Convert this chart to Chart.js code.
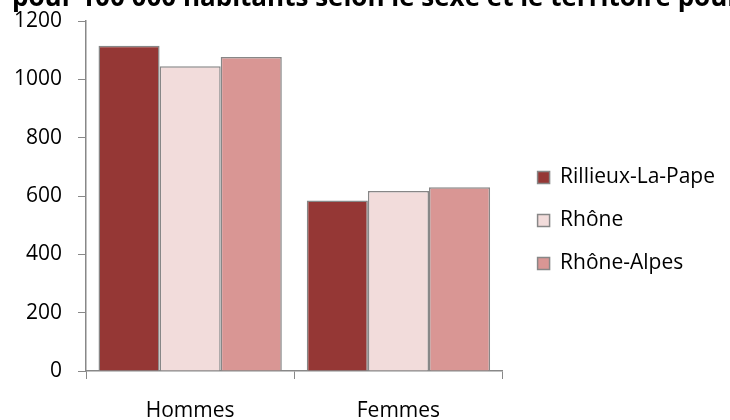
<!DOCTYPE html>
<html>
<head>
<meta charset="utf-8">
<script src="https://cdn.jsdelivr.net/npm/chart.js@4"></script>
<style>
  html, body { margin: 0; padding: 0; background: #fff; }
  #wrap { width: 730px; height: 420px; position: relative; }
</style>
</head>
<body>
<div id="wrap"><canvas id="c" width="730" height="420"></canvas></div>
<script>
const categories = ["Hommes", "Femmes"];
const seriesNames = ["Rillieux-La-Pape", "Rhône", "Rhône-Alpes"];
const rillieux = [1115, 585];
const rhone = [1045, 617];
const rhoneAlpes = [1077, 630];
const yTicks = [0, 200, 400, 600, 800, 1000, 1200];
const titleText = "pour 100 000 habitants selon le sexe et le territoire pour";

const colors = ["#953735", "#F2DCDB", "#D99694"];
const FONT = '"Open Sans", "DejaVu Sans", sans-serif';

const titlePlugin = {
  id: 'clippedTitle',
  afterDraw(chart) {
    const ctx = chart.ctx;
    ctx.save();
    ctx.font = 'bold 26px ' + FONT;
    ctx.fillStyle = '#000';
    ctx.textBaseline = 'alphabetic';
    ctx.textAlign = 'left';
    ctx.fillText(titleText, 12, 6);
    ctx.restore();
  }
};

new Chart(document.getElementById('c'), {
  type: 'bar',
  data: {
    labels: categories,
    datasets: [
      { label: seriesNames[0], data: rillieux, backgroundColor: colors[0] },
      { label: seriesNames[1], data: rhone, backgroundColor: colors[1] },
      { label: seriesNames[2], data: rhoneAlpes, backgroundColor: colors[2] }
    ].map(d => Object.assign(d, {
      borderColor: '#878787',
      borderWidth: 1.5,
      categoryPercentage: 0.88,
      barPercentage: 1.0,
      yAxisID: 'y'
    }))
  },
  options: {
    responsive: false,
    animation: false,
    devicePixelRatio: 1,
    layout: { padding: { top: 21, left: 0, right: 5, bottom: 0 } },
    plugins: {
      tooltip: { enabled: false },
      title: { display: false },
      legend: {
        display: true,
        position: 'right',
        align: 'center',
        maxWidth: 400,
        labels: {
          font: { family: FONT, size: 21 },
          color: '#000',
          boxWidth: 12,
          boxHeight: 12,
          padding: 22
        }
      }
    },
    scales: {
      x: {
        offset: true,
        grid: { display: true, drawOnChartArea: false, drawTicks: true, tickLength: 8, color: '#888', offset: true },
        border: { display: true, color: '#888', width: 1.5 },
        ticks: { font: { family: FONT, size: 21 }, color: '#000', padding: 19 },
        afterFit: s => { s.height = 49; s.paddingLeft = 0; s.paddingRight = 0; }
      },
      y: {
        min: 0,
        max: 1200,
        afterBuildTicks: s => { s.ticks = yTicks.map(v => ({ value: v })); },
        grid: { display: true, drawOnChartArea: false, drawTicks: true, tickLength: 8, color: '#888' },
        border: { display: true, color: '#888', width: 1.5 },
        ticks: { font: { family: FONT, size: 21 }, color: '#000', padding: 16, callback: v => String(v) },
        afterFit: s => { s.width = 86; s.paddingTop = 0; s.paddingBottom = 0; }
      },
      spacer: {
        type: 'linear',
        position: 'right',
        display: true,
        grid: { display: false },
        border: { display: false },
        ticks: { display: false },
        afterFit: s => { s.width = 13; s.paddingTop = 0; s.paddingBottom = 0; }
      }
    }
  },
  plugins: [titlePlugin]
});
</script>
</body>
</html>
